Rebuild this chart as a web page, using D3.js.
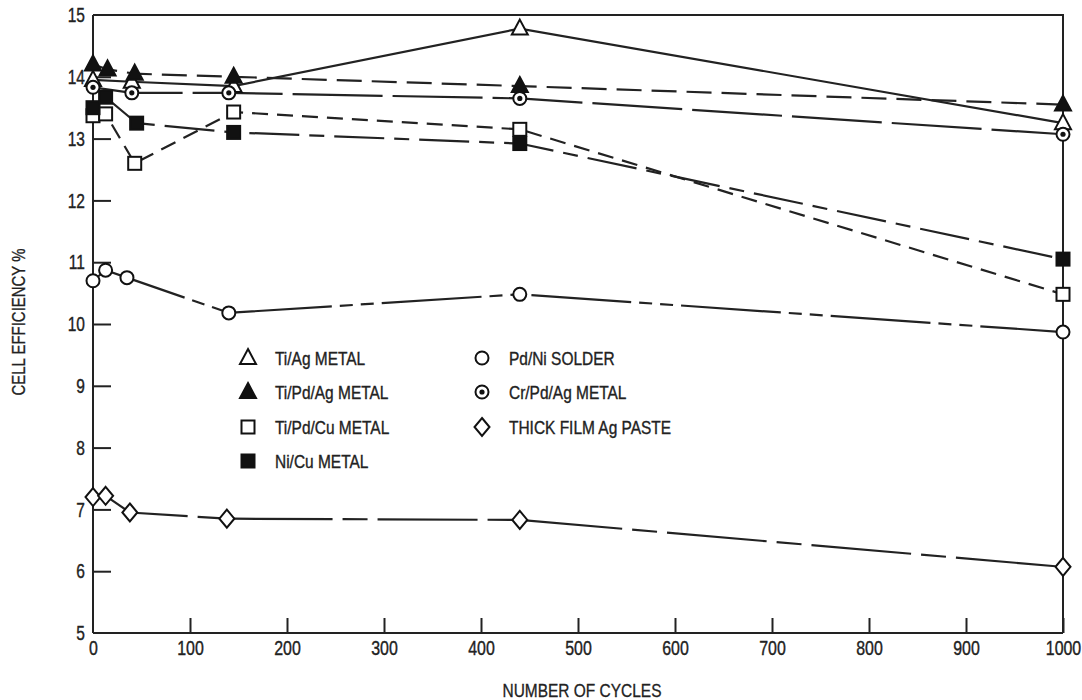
<!DOCTYPE html>
<html>
<head>
<meta charset="utf-8">
<script src="https://cdn.jsdelivr.net/npm/d3@7"></script>
<style>
  body { margin: 0; background: #fff; }
  svg { display: block; }
  .axis path, .axis line { stroke: #222; stroke-width: 2; }
  .axis text { font-family: "Liberation Sans", Arial, sans-serif; font-size: 21px; fill: #222; stroke: #222; stroke-width: 0.4; }
  .title { font-family: "Liberation Sans", Arial, sans-serif; font-size: 18px; fill: #222; stroke: #222; stroke-width: 0.3; }
  .legend text { font-family: "Liberation Sans", Arial, sans-serif; font-size: 18px; fill: #222; stroke: #222; stroke-width: 0.35; }
</style>
</head>
<body>
<div id="chart"></div>
<script>
// Series names, shown in legend order
const names = ['Ti/Ag METAL', 'Ti/Pd/Ag METAL', 'Ti/Pd/Cu METAL', 'Ni/Cu METAL',
               'Pd/Ni SOLDER', 'Cr/Pd/Ag METAL', 'THICK FILM Ag PASTE'];
const symbols = ['triOpen', 'triFill', 'sqOpen', 'sqFill', 'circOpen', 'circDot', 'diamond'];
const dashes = [null, '25,10', '16,9', '50,10,15,10', '100,8,13,8,13,8', '90,10', '100,10,25,10'];

// Cycles (x) and efficiency (y) per series
const tiAgX = [0, 40, 145, 440, 1000];
const tiAgY = [13.95, 13.92, 13.85, 14.78, 13.25];
const tiPdAgX = [0, 15, 43, 145, 440, 1000];
const tiPdAgY = [14.2, 14.12, 14.05, 14.0, 13.85, 13.55];
const tiPdCuX = [0, 13, 43, 145, 440, 1000];
const tiPdCuY = [13.37, 13.4, 12.6, 13.43, 13.15, 10.48];
const niCuX = [0, 13, 45, 145, 440, 1000];
const niCuY = [13.5, 13.67, 13.25, 13.1, 12.92, 11.05];
const pdNiX = [0, 13, 35, 140, 440, 1000];
const pdNiY = [10.7, 10.87, 10.75, 10.18, 10.48, 9.87];
const crPdAgX = [0, 40, 140, 440, 1000];
const crPdAgY = [13.83, 13.74, 13.74, 13.65, 13.07];
const thickX = [0, 13, 38, 138, 440, 1000];
const thickY = [7.2, 7.22, 6.95, 6.85, 6.83, 6.07];

const seriesX = [tiAgX, tiPdAgX, tiPdCuX, niCuX, pdNiX, crPdAgX, thickX];
const seriesY = [tiAgY, tiPdAgY, tiPdCuY, niCuY, pdNiY, crPdAgY, thickY];

const xTicks = [0, 100, 200, 300, 400, 500, 600, 700, 800, 900, 1000];
const yTicks = [5, 6, 7, 8, 9, 10, 11, 12, 13, 14, 15];

const W = 1082, H = 700;
const svg = d3.select('#chart').append('svg').attr('width', W).attr('height', H);

const x = d3.scaleLinear().domain([0, 1000]).range([93, 1063]);
const y = d3.scaleLinear().domain([5, 15]).range([633, 15]);

// Axes with inside ticks, condensed labels
svg.append('g').attr('class', 'axis')
  .attr('transform', `translate(0,${y(5)})`)
  .call(d3.axisBottom(x).tickValues(xTicks).tickFormat(d3.format('d'))
    .tickSizeInner(-15).tickSizeOuter(0).tickPadding(7))
  .call(g => g.select('.domain').attr('d', `M${x(0)},0H${x(1000)}`))
  .call(g => g.selectAll('.tick').filter(d => d === 0).select('line').remove())
  .call(g => g.selectAll('text').attr('transform', 'scale(0.76,1)'));

svg.append('g').attr('class', 'axis')
  .attr('transform', `translate(${x(0)},0)`)
  .call(d3.axisLeft(y).tickValues(yTicks).tickSizeInner(-18).tickSizeOuter(0))
  .call(g => g.selectAll('.tick').filter(d => d === 5 || d === 15).select('line').remove())
  .call(g => g.select('.domain').attr('d', `M0,${y(5)}V${y(15)}`))
  .call(g => g.selectAll('text').attr('x', 0).attr('transform', 'translate(-8,0) scale(0.74,1)'));

// frame: top and right
svg.append('path')
  .attr('d', `M${x(0)},${y(15)}H${x(1000)}V${y(5)}`)
  .attr('fill', 'none').attr('stroke', '#222').attr('stroke-width', 2);

// Axis titles
svg.append('text').attr('class', 'title')
  .attr('transform', 'translate(582,697) scale(0.86,1)')
  .attr('text-anchor', 'middle')
  .text('NUMBER OF CYCLES');
svg.append('text').attr('class', 'title')
  .attr('transform', 'translate(25,322) rotate(-90) scale(0.83,1)')
  .attr('text-anchor', 'middle')
  .text('CELL EFFICIENCY %');

// Lines
const line = d3.line().x(d => x(d[0])).y(d => y(d[1]));
names.forEach((n, i) => {
  const pts = seriesX[i].map((v, j) => [v, seriesY[i][j]]);
  svg.append('path')
    .datum(pts)
    .attr('d', line)
    .attr('fill', 'none')
    .attr('stroke', '#222')
    .attr('stroke-width', 2.2)
    .attr('stroke-dasharray', dashes[i]);
});

// Marker drawing
function drawMarker(g, type, cx, cy) {
  const sw = 2;
  if (type === 'triOpen' || type === 'triFill') {
    g.append('path')
      .attr('d', `M${cx},${cy - 9}L${cx + 8},${cy + 6}L${cx - 8},${cy + 6}Z`)
      .attr('fill', type === 'triFill' ? '#111' : '#fff')
      .attr('stroke', '#111').attr('stroke-width', sw);
  } else if (type === 'sqOpen' || type === 'sqFill') {
    g.append('rect')
      .attr('x', cx - 6.5).attr('y', cy - 6.5).attr('width', 13).attr('height', 13)
      .attr('fill', type === 'sqFill' ? '#111' : '#fff')
      .attr('stroke', '#111').attr('stroke-width', sw);
  } else if (type === 'circOpen' || type === 'circDot') {
    g.append('circle').attr('cx', cx).attr('cy', cy).attr('r', 6.5)
      .attr('fill', '#fff').attr('stroke', '#111').attr('stroke-width', sw);
    if (type === 'circDot') {
      g.append('circle').attr('cx', cx).attr('cy', cy).attr('r', 2.6).attr('fill', '#111');
    }
  } else if (type === 'diamond') {
    g.append('path')
      .attr('d', `M${cx},${cy - 9}L${cx + 7.5},${cy}L${cx},${cy + 9}L${cx - 7.5},${cy}Z`)
      .attr('fill', '#fff').attr('stroke', '#111').attr('stroke-width', sw);
  }
}

const markers = svg.append('g');
names.forEach((n, i) => {
  seriesX[i].forEach((v, j) => drawMarker(markers, symbols[i], x(v), y(seriesY[i][j])));
});

// Legend
const legend = svg.append('g').attr('class', 'legend');
const legCols = [248, 482];
const legRows = [358, 392, 427, 461];
names.forEach((n, i) => {
  const col = i < 4 ? 0 : 1;
  const row = i < 4 ? i : i - 4;
  const lx = legCols[col], ly = legRows[row];
  drawMarker(legend, symbols[i], lx, ly);
  legend.append('text')
    .attr('transform', `translate(${lx + 27},${ly + 6.5}) scale(0.86,1)`)
    .text(n);
});
</script>
</body>
</html>
